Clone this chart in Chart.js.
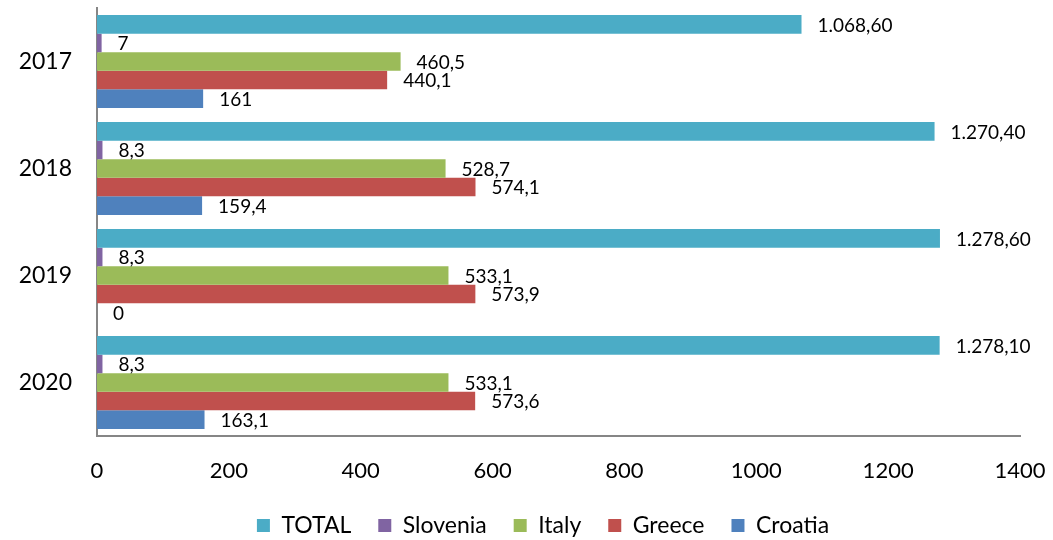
<!DOCTYPE html>
<html>
<head>
<meta charset="utf-8">
<script src="https://cdn.jsdelivr.net/npm/chart.js@4"></script>
<style>
  html, body { margin: 0; padding: 0; background: #fff; }
  #wrap { width: 1053px; height: 540px; }
</style>
</head>
<body>
<div id="wrap"><canvas id="myChart" width="1053" height="540"></canvas></div>
<script>
// Data
const years = ['2017', '2018', '2019', '2020'];
const total = [1068.6, 1270.4, 1278.6, 1278.1];
const slovenia = [7, 8.3, 8.3, 8.3];
const italy = [460.5, 528.7, 533.1, 533.1];
const greece = [440.1, 574.1, 573.9, 573.6];
const croatia = [161, 159.4, 0, 163.1];
const xTicks = [0, 200, 400, 600, 800, 1000, 1200, 1400];

// 1068.6 -> "1.068,60" ; 460.5 -> "460,5"
function fmt(v, dec) {
    let s = dec ? v.toFixed(dec) : String(v);
    let parts = s.split('.');
    let intPart = parts[0].replace(/\B(?=(\d{3})+(?!\d))/g, '.');
    return parts.length > 1 ? intPart + ',' + parts[1] : intPart;
}

// value labels next to the bar ends
const barLabels = {
    id: 'barLabels',
    afterDatasetsDraw(chart) {
        const ctx = chart.ctx;
        ctx.save();
        ctx.font = '19px Lato';
        ctx.fillStyle = '#000';
        ctx.textAlign = 'left';
        ctx.textBaseline = 'middle';
        chart.data.datasets.forEach((ds, i) => {
            const meta = chart.getDatasetMeta(i);
            meta.data.forEach((bar, j) => {
                ctx.fillText(fmt(ds.data[j], ds.decimals), bar.x + 16, bar.y + 1);
            });
        });
        ctx.restore();
    }
};

// legend in the original sits a bit right of the canvas centre
const legendShift = {
    id: 'legendShift',
    afterLayout(chart) {
        chart.legend.left += 33;
        chart.legend.right += 33;
    }
};

var ctx = document.getElementById('myChart').getContext('2d');

var myChart = new Chart(ctx, {
    type: 'bar',
    data: {
        labels: years,
        datasets: [
            { label: 'TOTAL', data: total, backgroundColor: '#4bacc6', decimals: 2 },
            { label: 'Slovenia', data: slovenia, backgroundColor: '#8064a2', decimals: 0 },
            { label: 'Italy', data: italy, backgroundColor: '#9bbb59', decimals: 0 },
            { label: 'Greece', data: greece, backgroundColor: '#c0504d', decimals: 0 },
            { label: 'Croatia', data: croatia, backgroundColor: '#4f81bd', decimals: 0 }
        ]
    },
    options: {
        indexAxis: 'y',
        responsive: false,
        animation: false,
        categoryPercentage: 0.867,
        barPercentage: 1,
        layout: {
            padding: { top: 8, right: 33, left: 0, bottom: -7 }
        },
        plugins: {
            legend: {
                display: true,
                position: 'bottom',
                labels: {
                    color: '#000',
                    boxWidth: 13,
                    boxHeight: 13,
                    padding: 27,
                    font: { family: 'Lato', size: 23 }
                }
            },
            tooltip: { enabled: false }
        },
        scales: {
            x: {
                min: 0,
                max: 1400,
                afterBuildTicks: (scale) => {
                    scale.ticks = xTicks.map(v => ({ value: v }));
                },
                afterFit: (scale) => {
                    scale.height = 51;
                    scale.paddingLeft = 0;
                    scale.paddingRight = 0;
                },
                ticks: {
                    color: '#000',
                    padding: 22,
                    maxRotation: 0,
                    callback: (v) => String(v),
                    font: { family: 'Lato', size: 22 }
                },
                grid: { display: false, drawTicks: false },
                border: { display: true, color: '#868686', width: 2 }
            },
            y: {
                afterFit: (scale) => {
                    scale.width = 97;
                    scale.paddingTop = 0;
                    scale.paddingBottom = 0;
                },
                ticks: {
                    color: '#000',
                    padding: 25,
                    font: { family: 'Lato', size: 23 }
                },
                grid: { display: false, drawTicks: false },
                border: { display: true, color: '#868686', width: 2 }
            }
        }
    },
    plugins: [barLabels, legendShift]
});
</script>
</body>
</html>
